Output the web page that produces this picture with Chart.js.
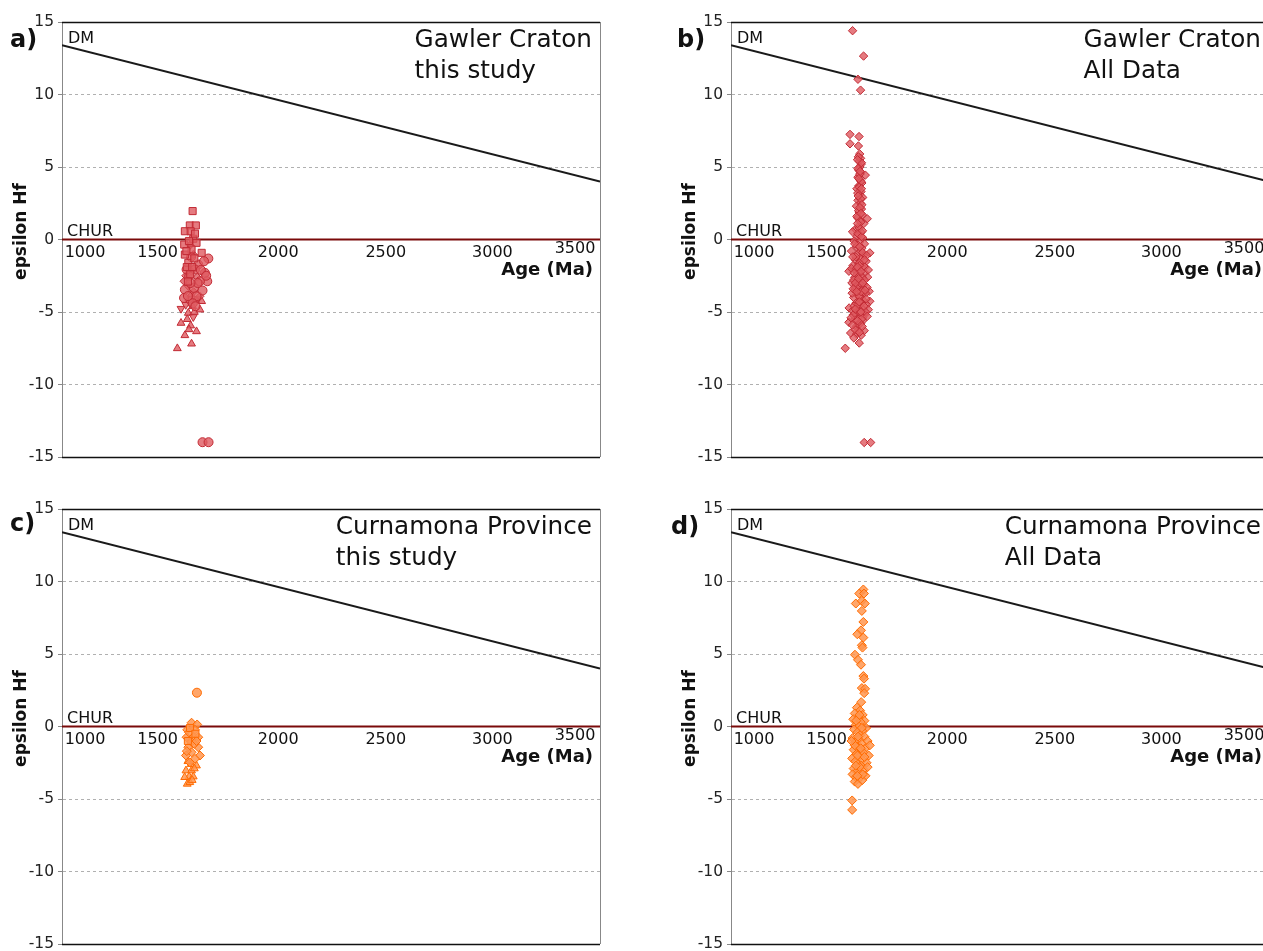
<!DOCTYPE html>
<html>
<head>
<meta charset="utf-8">
<title>epsilon Hf vs Age</title>
<script src="https://cdn.jsdelivr.net/npm/chart.js@4.4.1/dist/chart.umd.min.js"></script>
<style>
  html, body { margin: 0; padding: 0; background: #fff; overflow: hidden; }
  #page { position: relative; width: 1263px; height: 951px; overflow: hidden; }
  #page canvas { position: absolute; }
</style>
</head>
<body>
<div id="page">
  <canvas id="chartA" width="630" height="477" style="left:0px;top:0px"></canvas>
  <canvas id="chartB" width="630" height="477" style="left:669px;top:0px"></canvas>
  <canvas id="chartC" width="630" height="477" style="left:0px;top:487px"></canvas>
  <canvas id="chartD" width="630" height="477" style="left:669px;top:487px"></canvas>
</div>
<script>
// axis setup
const ageMin = 1000, ageMax = 3500;
const hfMin = -15, hfMax = 15;
const ageTicks = [1000, 1500, 2000, 2500, 3000, 3500];
const ageTickLabels = ['1000', '1500', '2000', '2500', '3000', '3500'];
const hfGridValues = [10, 5, -5, -10];

// evolution lines, [age, eHf] at both ends of the age axis
const dmLine = [[1000, 13.4], [3500, 4.0]];
const churLine = [[1000, 0], [3500, 0]];

// Gawler Craton, this study (one array per marker shape)
const gcSquares = [[1607, 1.96], [1594, 0.97], [1622, 0.97], [1571, 0.57], [1598, 0.57], [1610, 0.05], [1568, -0.35],
  [1625, -0.23], [1649, -0.92], [1571, -1.04], [1587, -1.61], [1602, -0.69], [1590, -0.1], [1580, -1.9],
  [1615, -1.3], [1596, -2.4], [1578, -0.8], [1618, 0.4], [1585, -2.9], [1605, -1.9]];
const gcCircles = [[1680, -1.31], [1633, -1.73], [1664, -2.3], [1675, -2.88], [1641, -2.88], [1613, -3.34],
  [1653, -3.52], [1571, -3.46], [1591, -2.53], [1618, -2.07], [1579, -2.07], [1567, -4.03], [1625, -3.92],
  [1653, -13.98], [1681, -13.98], [1600, -1.2], [1645, -2.1], [1660, -1.5], [1608, -4.4], [1585, -3.9],
  [1630, -3.0], [1670, -2.5], [1597, -3.0], [1620, -4.6]];
const gcDiamonds = [[1567, -2.88], [1610, -1.04], [1587, -3.23], [1602, -2.19], [1641, -3.92], [1595, -0.4],
  [1575, -2.5], [1612, -3.6], [1590, -4.2], [1628, -2.6]];
const gcTriDown = [[1553, -4.77], [1610, -5.34], [1594, -4.38], [1630, -4.1], [1575, -4.5]];
const gcTriUp = [[1536, -7.51], [1571, -6.61], [1602, -7.19], [1625, -6.34], [1553, -5.76], [1598, -5.94],
  [1649, -4.26], [1641, -4.84], [1587, -5.07], [1607, -4.61], [1582, -5.5], [1615, -5.0], [1600, -3.8],
  [1620, -4.2], [1590, -6.2]];

// Gawler Craton, all data
const gcAll = [[1565, 14.4], [1616, 12.65], [1590, 11.05], [1602, 10.3], [1619, -14.0], [1649, -14.0], [1531, -7.5],
  [1553, 7.25], [1595, 7.1], [1553, 6.6], [1592, 6.45],
  [1598, 5.9], [1602, 5.6], [1596, 5.4], [1605, 5.2], [1599, 5.0], [1593, 4.8], [1603, 4.6], [1624, 4.44],
  [1590, 4.3], [1600, 4.1], [1608, 3.9], [1594, 3.7], [1585, 3.5], [1604, 3.3], [1597, 3.1], [1612, 2.9],
  [1590, 2.7], [1601, 2.5], [1583, 2.3], [1606, 2.1], [1595, 1.9], [1610, 1.7], [1588, 1.5], [1633, 1.43],
  [1600, 1.3], [1617, 1.1], [1592, 0.9], [1578, 0.7], [1565, 0.53], [1605, 0.5], [1598, 0.3], [1586, 0.2],
  [1612, 0.1], [1592, 5.7], [1606, 5.3], [1590, 4.9], [1598, 4.5], [1604, 4.0], [1596, 3.6], [1589, 3.2],
  [1602, 2.8], [1608, 2.4], [1593, 2.0], [1585, 1.6], [1603, 1.2], [1596, 0.8], [1590, 0.4], [1607, 0.2],
  [1572, -0.1], [1595, -0.2], [1620, -0.3], [1583, -0.5], [1608, -0.6], [1645, -0.92], [1560, -0.8],
  [1590, -1.0], [1615, -1.1], [1600, -1.3], [1578, -1.4], [1628, -1.5], [1592, -1.7], [1567, -1.8],
  [1610, -1.9], [1548, -2.19], [1585, -2.2], [1622, -2.3], [1598, -2.4], [1575, -2.6], [1635, -2.6],
  [1605, -2.8], [1588, -2.9], [1562, -3.0], [1618, -3.1], [1595, -3.2], [1642, -3.57], [1578, -3.4],
  [1608, -3.5], [1625, -3.7], [1587, -3.8], [1570, -4.0], [1600, -4.0], [1645, -4.26], [1615, -4.2],
  [1580, -4.4], [1630, -4.5], [1549, -4.72], [1593, -4.6], [1610, -4.8], [1638, -4.84], [1565, -4.9],
  [1585, -5.1], [1620, -5.2], [1600, -5.3], [1575, -5.5], [1548, -5.71], [1593, -5.87], [1612, -5.6],
  [1582, -6.0], [1619, -6.29], [1556, -6.45], [1584, -6.52], [1571, -6.79], [1596, -7.14], [1605, -6.6],
  [1590, -0.4], [1603, -0.8], [1580, -1.2], [1598, -1.6], [1622, -1.9], [1586, -2.4], [1610, -2.6],
  [1570, -2.8], [1600, -3.0], [1582, -3.3], [1615, -3.6], [1595, -3.9], [1628, -4.1], [1606, -4.4],
  [1572, -4.6], [1590, -5.0], [1612, -5.4], [1568, -5.2], [1602, -5.8], [1625, -5.0], [1588, -6.3],
  [1578, -3.0], [1620, -2.8], [1560, -2.0], [1632, -3.3], [1597, -1.8], [1612, -0.9], [1575, -0.3],
  [1590, -4.5], [1605, -3.6], [1583, -2.0], [1630, -1.1], [1563, -3.7], [1598, -5.0],
  [1588, 5.5], [1600, 4.7], [1594, 4.2], [1606, 3.5], [1591, 3.0], [1599, 2.2], [1604, 1.8], [1588, 1.1],
  [1611, 0.6], [1598, -0.5], [1566, -1.2], [1620, -1.4], [1588, -1.9], [1604, -2.2], [1572, -2.3],
  [1638, -2.1], [1593, -2.7], [1612, -3.0], [1568, -3.4], [1623, -3.5], [1584, -3.6], [1596, -4.3],
  [1618, -4.6], [1578, -4.8], [1604, -5.0], [1633, -5.3], [1558, -5.4], [1588, -5.6], [1610, -6.0],
  [1576, -6.2], [1597, -6.4], [1564, -5.9]];

// Curnamona Province, this study
const cpCircles = [[1627, 2.33]];
const cpDiamonds = [[1602, 0.26], [1628, 0.14], [1582, -0.23], [1618, -0.23], [1579, -0.74], [1610, -0.74],
  [1633, -0.74], [1602, -1.08], [1587, -1.43], [1633, -1.43], [1602, -1.78], [1576, -2.0], [1641, -2.0],
  [1618, -2.23], [1594, -2.47], [1590, -0.4], [1615, -1.2], [1580, -1.7], [1625, -1.0]];
const cpSquares = [[1595, -0.1], [1620, -0.5], [1585, -1.0]];
const cpTriUp = [[1625, -2.7], [1576, -3.04], [1602, -3.04], [1591, -3.46], [1610, -3.46], [1582, -3.96],
  [1594, -3.85], [1600, -2.6], [1585, -2.4], [1615, -2.9], [1570, -3.5], [1605, -3.7]];

// Curnamona Province, all data
const cpAll = [[1615, 9.45], [1596, 9.17], [1618, 9.17], [1580, 8.48], [1608, 8.66], [1622, 8.48], [1608, 7.97],
  [1615, 7.21], [1604, 6.63], [1587, 6.36], [1615, 6.13], [1608, 5.6], [1611, 5.44], [1576, 4.95],
  [1590, 4.6], [1604, 4.26], [1615, 3.48], [1618, 3.3], [1608, 2.65], [1623, 2.6], [1619, 2.3], [1605, 1.68],
  [1585, 1.3], [1600, 1.1], [1575, 0.9], [1612, 0.8], [1592, 0.6], [1568, 0.5], [1620, 0.4], [1603, 0.3],
  [1580, 0.1], [1595, 0.0], [1628, -0.1], [1572, -0.2], [1610, -0.3], [1588, -0.4], [1600, -0.6],
  [1620, -0.7], [1565, -0.8], [1593, -0.9], [1635, -1.0], [1578, -1.1], [1608, -1.2], [1587, -1.4],
  [1625, -1.5], [1570, -1.6], [1600, -1.7], [1615, -1.8], [1583, -1.9], [1640, -2.0], [1595, -2.1],
  [1563, -2.2], [1610, -2.3], [1578, -2.4], [1630, -2.5], [1590, -2.6], [1605, -2.7], [1570, -2.9],
  [1618, -3.0], [1585, -3.1], [1600, -3.2], [1565, -3.3], [1625, -3.4], [1580, -3.5], [1595, -3.6],
  [1575, -3.8], [1590, -3.96], [1610, -3.7], [1563, -5.1], [1563, -5.75],
  [1597, 0.8], [1582, 0.4], [1608, -0.1], [1590, -0.7], [1575, -1.3], [1603, -1.5], [1588, -2.0],
  [1620, -2.1], [1598, -2.8], [1580, -2.7], [1612, -3.3], [1587, -3.4], [1560, -1.0], [1645, -1.3],
  [1635, -2.8]];

const panelLetters = ['a)', 'b)', 'c)', 'd)'];
const panelTitles = [
  ['Gawler Craton', 'this study'],
  ['Gawler Craton', 'All Data'],
  ['Curnamona Province', 'this study'],
  ['Curnamona Province', 'All Data']
];

// label nudges so the end labels stay inside the frame: [dx, dy]
const ageLabelNudge = [[23, 0], [-12, 0], [1, 0], [1, 0], [0, 0], [-25, -3.5]];

Chart.defaults.font.family = "'DejaVu Sans', sans-serif";

const red = { fill: 'rgba(222, 90, 96, 0.8)', line: '#c22a34' };
const orange = { fill: 'rgba(255, 150, 80, 0.85)', line: '#ff6a00' };

function toXY(rows) {
  return rows.map(r => ({ x: r[0], y: r[1] }));
}

function markers(rows, colour, style, radius, rotation) {
  return {
    type: 'scatter',
    data: toXY(rows),
    pointStyle: style,
    pointRadius: radius,
    pointRotation: rotation || 0,
    pointBackgroundColor: colour.fill,
    pointBorderColor: colour.line,
    pointBorderWidth: 1,
    order: 1
  };
}

function refLine(rows, colour) {
  return {
    type: 'line',
    data: toXY(rows),
    borderColor: colour,
    borderWidth: 2,
    pointRadius: 0,
    fill: false,
    order: 5
  };
}

// frame, labels and titles drawn on top of the chart
function panelDecor(index, letterX, letterY) {
  return {
    id: 'panelDecor',
    afterDraw(chart) {
      const { ctx, chartArea: area, scales } = chart;
      const x = scales.x, y = scales.y;
      const y0 = y.getPixelForValue(0);
      ctx.save();

      // frame: black top and bottom, grey right side
      ctx.lineWidth = 1.3;
      ctx.strokeStyle = '#111';
      ctx.beginPath();
      ctx.moveTo(area.left, area.top + 0.5);
      ctx.lineTo(area.right, area.top + 0.5);
      ctx.moveTo(area.left, area.bottom + 0.5);
      ctx.lineTo(area.right, area.bottom + 0.5);
      ctx.stroke();
      ctx.lineWidth = 1;
      ctx.strokeStyle = '#888';
      ctx.beginPath();
      ctx.moveTo(area.right + 0.5, area.top);
      ctx.lineTo(area.right + 0.5, area.bottom);
      ctx.stroke();

      ctx.fillStyle = '#111';
      ctx.textBaseline = 'alphabetic';

      // line names
      ctx.font = "16px 'DejaVu Sans'";
      ctx.textAlign = 'left';
      ctx.fillText('DM', area.left + 6, area.top + 21);
      ctx.fillText('CHUR', area.left + 5, y0 - 4);

      // age tick labels along the CHUR line
      ctx.textAlign = 'center';
      ageTicks.forEach((v, i) => {
        const [dx, dy] = ageLabelNudge[i];
        ctx.fillText(ageTickLabels[i], x.getPixelForValue(v) + dx, y0 + 17 + dy);
      });

      // axis titles
      ctx.font = "bold 18px 'DejaVu Sans'";
      ctx.textAlign = 'right';
      ctx.fillText('Age (Ma)', area.right - 7, y0 + 35);

      ctx.save();
      ctx.translate(22, (area.top + area.bottom) / 2 - 8);
      ctx.rotate(-Math.PI / 2);
      ctx.font = "bold 17px 'DejaVu Sans'";
      ctx.textAlign = 'center';
      ctx.textBaseline = 'middle';
      ctx.fillText('epsilon Hf', 0, 0);
      ctx.restore();

      // panel letter
      ctx.font = "bold 24px 'DejaVu Sans'";
      ctx.textAlign = 'left';
      ctx.fillText(panelLetters[index], letterX, letterY);

      // two-line title, first line right aligned, second starts under it
      const [t1, t2] = panelTitles[index];
      ctx.font = "24.7px 'DejaVu Sans'";
      const w1 = ctx.measureText(t1).width;
      const tx = area.right - 8 - w1;
      ctx.fillText(t1, tx, area.top + 25);
      ctx.fillText(t2, tx, area.top + 56);

      ctx.restore();
    }
  };
}

function makePanel(canvasId, index, datasets, letterX, letterY) {
  const ctx = document.getElementById(canvasId).getContext('2d');
  return new Chart(ctx, {
    type: 'scatter',
    data: { datasets: datasets },
    options: {
      responsive: false,
      animation: false,
      events: [],
      layout: { padding: { top: 22, right: 30, bottom: 20, left: 0 } },
      plugins: { legend: { display: false }, tooltip: { enabled: false } },
      scales: {
        x: { type: 'linear', min: ageMin, max: ageMax, display: false },
        y: {
          type: 'linear',
          min: hfMin,
          max: hfMax,
          afterFit(scale) { scale.width = 62; },
          ticks: {
            stepSize: 5,
            color: '#222',
            padding: 4,
            font: { size: 15.5 }
          },
          grid: {
            color: c => hfGridValues.includes(c.tick.value) ? '#b0b0b0' : 'rgba(0,0,0,0)',
            lineWidth: 1,
            tickColor: '#888',
            tickLength: 4
          },
          border: { display: true, color: '#888', width: 1, dash: [3, 3] }
        }
      }
    },
    plugins: [panelDecor(index, letterX, letterY)]
  });
}

makePanel('chartA', 0, [
  markers(gcSquares, red, 'rect', 5),
  markers(gcCircles, red, 'circle', 4.5),
  markers(gcDiamonds, red, 'rectRot', 4),
  markers(gcTriDown, red, 'triangle', 4.5, 180),
  markers(gcTriUp, red, 'triangle', 4.5),
  refLine(dmLine, '#1a1a1a'),
  refLine(churLine, '#7a0a0a')
], 10, 47);

makePanel('chartB', 1, [
  markers(gcAll, red, 'rectRot', 4.2),
  refLine(dmLine, '#1a1a1a'),
  refLine(churLine, '#7a0a0a')
], 8, 47);

makePanel('chartC', 2, [
  markers(cpCircles, orange, 'circle', 4.5),
  markers(cpSquares, orange, 'rect', 5),
  markers(cpDiamonds, orange, 'rectRot', 4.5),
  markers(cpTriUp, orange, 'triangle', 4.5),
  refLine(dmLine, '#1a1a1a'),
  refLine(churLine, '#7a0a0a')
], 10, 44);

makePanel('chartD', 3, [
  markers(cpAll, orange, 'rectRot', 4.5),
  refLine(dmLine, '#1a1a1a'),
  refLine(churLine, '#7a0a0a')
], 2, 47);
</script>
</body>
</html>
